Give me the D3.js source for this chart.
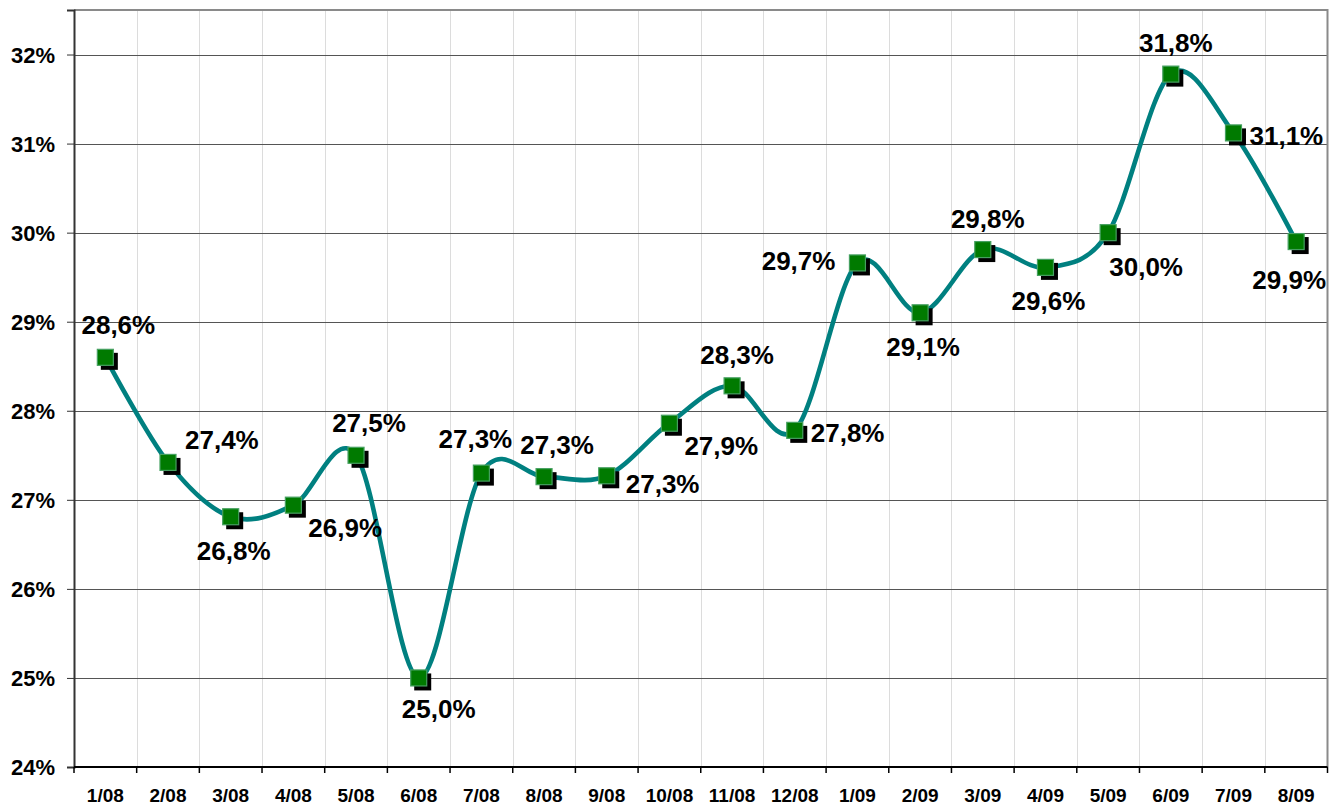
<!DOCTYPE html>
<html><head><meta charset="utf-8">
<script src="https://cdn.jsdelivr.net/npm/d3@7"></script>
<style>html,body{margin:0;padding:0;background:#fff;}svg{display:block;}</style>
</head><body>
<svg id="chart" width="1338" height="807"></svg>
<script>
const categories = ["1/08","2/08","3/08","4/08","5/08","6/08","7/08","8/08","9/08","10/08","11/08","12/08","1/09","2/09","3/09","4/09","5/09","6/09","7/09","8/09"];
const values = [28.60,27.42,26.81,26.94,27.50,25.00,27.30,27.26,27.27,27.86,28.28,27.78,29.66,29.10,29.81,29.61,30.00,31.78,31.12,29.90];
const labelPlacement = ["aboveRight","rightUp","below","rightBelow","aboveRight","belowRight","aboveLeft","aboveRight","rightDown","rightBelow","above","right","left","below","above","below","belowFarRight","above","right","belowLeft"];
const yTicks = [24,25,26,27,28,29,30,31,32];

const svg = d3.select("#chart");
const W = 1338, H = 807;
const margin = {left:74, top:10, right:W - 1327.5, bottom:H - 767};
const x = d3.scaleBand().domain(categories).range([margin.left, W - margin.right]).padding(0);
const y = d3.scaleLinear().domain([24, 32.5]).range([H - margin.bottom, margin.top]);
const cx = d => x(d) + x.bandwidth()/2;
const fmt = v => v.toFixed(1).replace(".", ",") + "%";
const FONT = "'Liberation Sans', Arial, sans-serif";

// vertical light gridlines
svg.append("g").selectAll("line").data(categories.slice(1)).join("line")
  .attr("x1", d => Math.round(x(d)) + 0.5).attr("x2", d => Math.round(x(d)) + 0.5)
  .attr("y1", margin.top).attr("y2", H - margin.bottom)
  .attr("stroke", "#dcdcdc").attr("stroke-width", 1);

// horizontal gridlines
svg.append("g").selectAll("line").data(yTicks.slice(1)).join("line")
  .attr("x1", margin.left).attr("x2", W - margin.right)
  .attr("y1", d => Math.round(y(d)) + 0.5).attr("y2", d => Math.round(y(d)) + 0.5)
  .attr("stroke", "#555").attr("stroke-width", 1);

// frame top/right
svg.append("path")
  .attr("d", `M${margin.left},${margin.top}H${W - margin.right}V${H - margin.bottom}`)
  .attr("fill", "none").attr("stroke", "#8a8a8a").attr("stroke-width", 2);

// y axis
const yAxis = d3.axisLeft(y).tickValues(yTicks).tickSize(7).tickFormat(d => d + "%");
const gy = svg.append("g").attr("transform", `translate(${margin.left},0)`).call(yAxis);
gy.select(".domain").attr("stroke", "#333").attr("stroke-width", 2);
gy.selectAll(".tick line").attr("stroke", "#333");
gy.selectAll(".tick text").attr("x", -19).attr("dy", "0.36em")
  .style("font-family", FONT).style("font-weight", "bold")
  .style("font-size", "22px").attr("fill", "#000");

// x axis
const xBoundaryScale = d3.scaleLinear().domain([0, categories.length]).range([margin.left, W - margin.right]);
const gx = svg.append("g").attr("transform", `translate(0,${H - margin.bottom})`);
gx.append("line").attr("x1", margin.left).attr("x2", W - margin.right).attr("y1", 0).attr("y2", 0)
  .attr("stroke", "#000").attr("stroke-width", 2);
gx.selectAll("line.tk").data(d3.range(categories.length + 1)).join("line").attr("class","tk")
  .attr("x1", d => xBoundaryScale(d)).attr("x2", d => xBoundaryScale(d))
  .attr("y1", 0).attr("y2", 6).attr("stroke", "#000").attr("stroke-width", 1.5);
const xAxis = d3.axisBottom(x).tickSize(0).tickPadding(22);
const gxl = svg.append("g").attr("transform", `translate(0,${H - margin.bottom})`).call(xAxis);
gxl.select(".domain").remove();
gxl.selectAll(".tick text")
  .style("font-family", FONT).style("font-weight", "bold")
  .style("font-size", "19px").attr("fill", "#000");

// line
const line = d3.line().x((d,i) => cx(categories[i])).y(d => y(d)).curve(d3.curveCardinal.tension(0));
svg.append("path").datum(values).attr("d", line)
  .attr("fill", "none").attr("stroke", "#008080").attr("stroke-width", 4.6).attr("stroke-linejoin","round");

// markers
const ms = 17, sh = 4;
const mk = svg.append("g").selectAll("g").data(values).join("g")
  .attr("transform", (d,i) => `translate(${cx(categories[i])},${y(d)})`);
mk.append("rect").attr("x", -ms/2 + sh).attr("y", -ms/2 + sh).attr("width", ms).attr("height", ms).attr("fill", "#000");
mk.append("rect").attr("x", -ms/2 + 0.5).attr("y", -ms/2 + 0.5).attr("width", ms - 1).attr("height", ms - 1)
  .attr("fill", "#007a00").attr("stroke", "#45a060").attr("stroke-width", 1.2);

// labels (offsets relative to the data point)
const place = {
  above:         {dx: 5,   dy: -22, anchor: "middle"},
  aboveRight:    {dx: 13,  dy: -23, anchor: "middle"},
  aboveLeft:     {dx: -6,  dy: -25, anchor: "middle"},
  below:         {dx: 3,   dy: 43,  anchor: "middle"},
  belowRight:    {dx: 20,  dy: 40,  anchor: "middle"},
  belowLeft:     {dx: -7,  dy: 47,  anchor: "middle"},
  belowFarRight: {dx: 38,  dy: 43,  anchor: "middle"},
  right:         {dx: 16,  dy: 12,  anchor: "start"},
  rightUp:       {dx: 17,  dy: -13, anchor: "start"},
  rightDown:     {dx: 19,  dy: 17,  anchor: "start"},
  rightBelow:    {dx: 15,  dy: 32,  anchor: "start"},
  left:          {dx: -22, dy: 7,   anchor: "end"}
};
svg.append("g").selectAll("text").data(values).join("text")
  .attr("x", (d,i) => cx(categories[i]) + place[labelPlacement[i]].dx)
  .attr("y", (d,i) => y(d) + place[labelPlacement[i]].dy)
  .attr("text-anchor", (d,i) => place[labelPlacement[i]].anchor)
  .style("font-family", FONT).style("font-weight", "bold")
  .style("font-size", "26px").attr("fill", "#000")
  .text(d => fmt(d));
</script>
</body></html>
